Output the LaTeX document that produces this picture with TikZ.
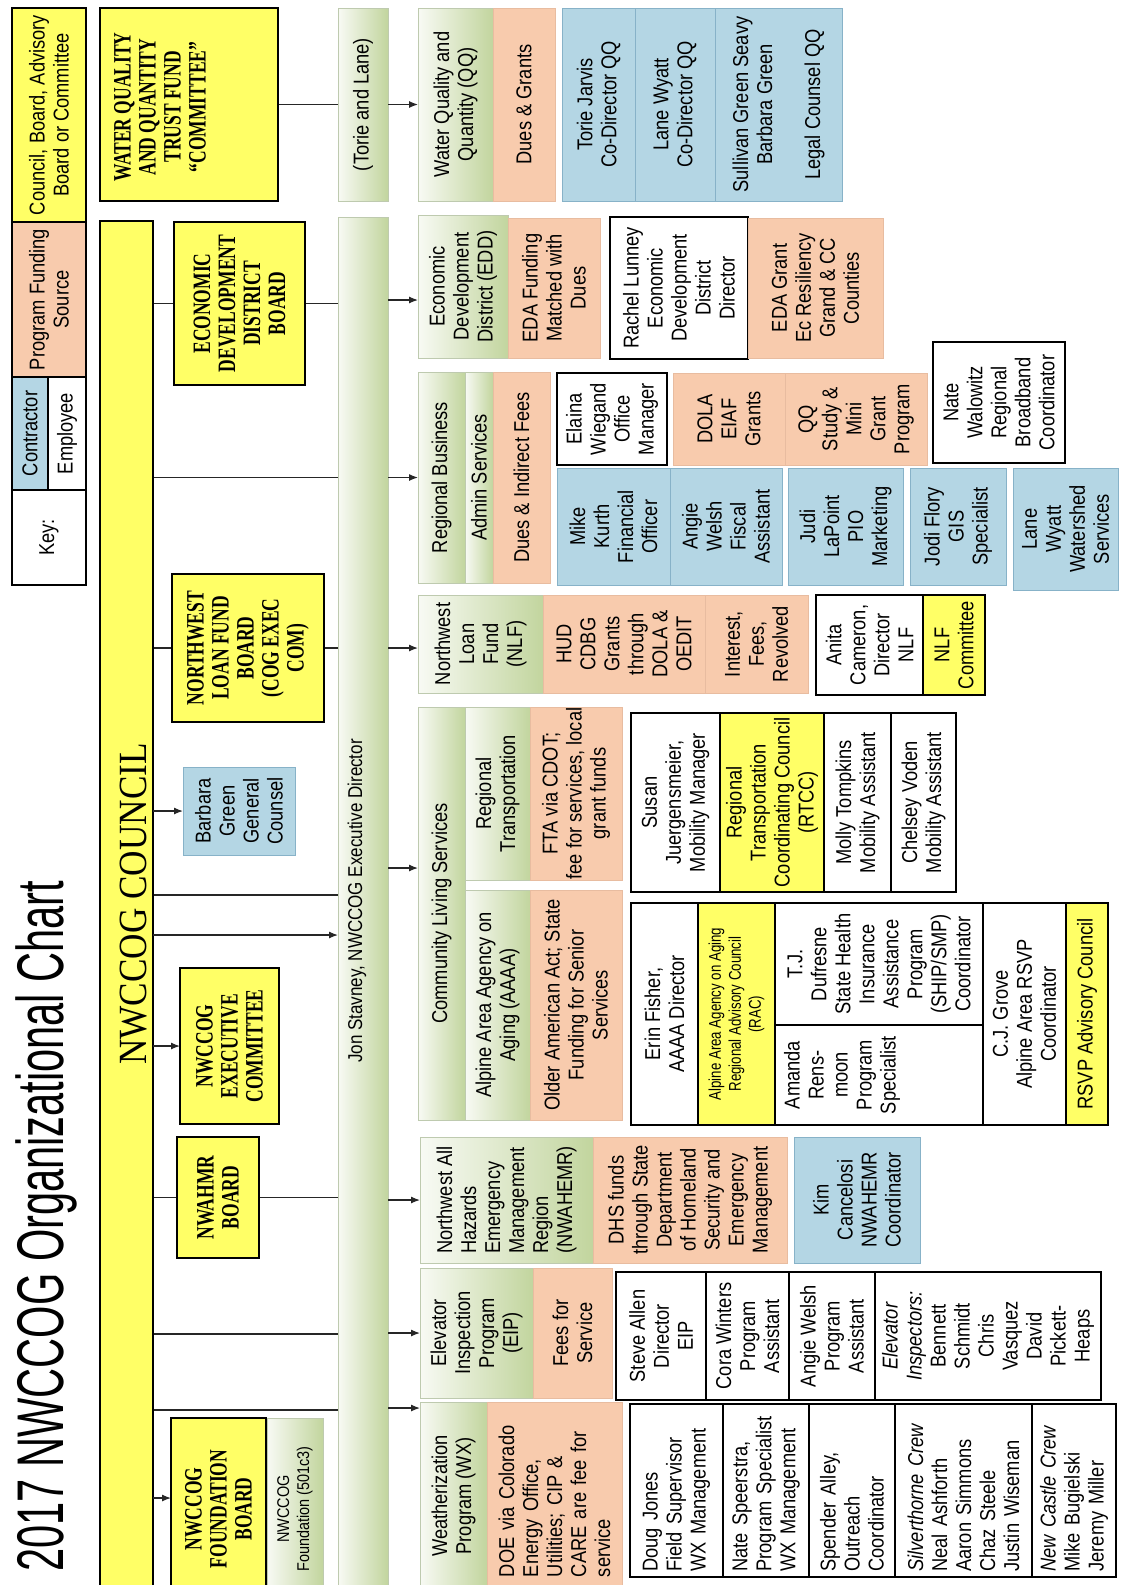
\documentclass[tikz,border=0pt]{standalone}
\usepackage{fontspec}
\setmainfont{Liberation Sans}
\newfontfamily\bodyF{Liberation Sans}[FakeStretch=0.85]
\newfontfamily\narrowF{Liberation Sans}[FakeStretch=0.78]
\newfontfamily\serifB{Liberation Serif}[FakeStretch=0.70]
\newfontfamily\serifR{Liberation Serif}[FakeStretch=0.88]
\newfontfamily\titleF{Liberation Sans}[FakeStretch=0.63]
\usetikzlibrary{arrows.meta}
\pgfdeclarelayer{background}
\pgfsetlayers{background,main}
\definecolor{yel1}{RGB}{255,255,102}
\definecolor{peach}{RGB}{248,203,173}
\definecolor{peachD}{RGB}{232,188,160}
\definecolor{blue1}{RGB}{180,214,228}
\definecolor{blueD}{RGB}{135,178,200}
\definecolor{greenL}{RGB}{248,250,244}
\definecolor{greenD}{RGB}{194,213,158}
\definecolor{greenB}{RGB}{190,202,175}
\newcommand\fBody{\bodyF\fontsize{21.5}{24}\selectfont}
\newcommand\fSmall{\bodyF\fontsize{17}{20}\selectfont}
\newcommand\fRac{\narrowF\fontsize{17}{20}\selectfont}
\newcommand\fBoard{\serifB\bfseries\fontsize{25}{25}\selectfont}
\newcommand\fCouncil{\serifR\fontsize{40}{44}\selectfont}
\newcommand\fTitle{\titleF\fontsize{66}{70}\selectfont}
\newcommand\fJon{\bodyF\fontsize{20}{24}\selectfont}
\newcommand\obox[7]{%
  \pgfmathsetmacro\bxw{#6-#5}%
  \pgfmathsetmacro\bxh{#4-#3}%
  \pgfmathsetmacro\bxcx{(#3+#4)/2}%
  \pgfmathsetmacro\bxcy{(#5+#6)/2}%
  \node[#2, rotate=90, minimum width=\bxw pt, minimum height=\bxh pt] (#1) at (\bxcx,\bxcy) {#7};%
}
\tikzset{
  bxbase/.style={inner sep=0pt, outer sep=0pt, align=center, font=\fBody},
  grnbox/.style={bxbase, draw=greenB, line width=0.7pt, left color=greenL, right color=greenD},
  pchbox/.style={bxbase, fill=peach, draw=peachD, line width=0.7pt},
  blubox/.style={bxbase, fill=blue1, draw=blueD, line width=1pt},
  yelbox/.style={bxbase, fill=yel1, draw=black, line width=1.2pt},
  whtbox/.style={bxbase, fill=white, draw=black, line width=1.2pt},
  boardbox/.style={yelbox, font=\fBoard},
  cellbox/.style={bxbase, fill=white, draw=black, line width=1.1pt},
  cellL/.style={cellbox, align=left, text width=162pt},
  txtnode/.style={inner sep=0pt, align=center, font=\fBody, rotate=90},
  conn/.style={line width=1.2pt, draw=black!85},
  arr/.style={conn, -{Latex[length=9pt,width=7pt]}}
}
\begin{document}
\begin{tikzpicture}[x=1pt,y=-1pt]
\useasboundingbox (0,0) rectangle (1125,1585);
\begin{pgfonlayer}{background}
\fill[white] (0,0) rectangle (1125,1585);
\end{pgfonlayer}
% named y-levels for connectors
\coordinate (c300) at (0,300);
\coordinate (c868) at (0,868);
\coordinate (c895) at (0,895);
\coordinate (c935) at (0,935);
\coordinate (c1334) at (0,1334);
\coordinate (c1408) at (0,1408);
\coordinate (c1410) at (0,1410);
\coordinate (c1498) at (0,1498);
% ---------- title ----------
\node[rotate=90, anchor=base, inner sep=0pt, font=\fTitle] (title) at (63,1226) {2017 NWCCOG Organizational Chart};
% ---------- key ----------
\obox{kcb}{yelbox}{12}{86}{8}{222}{Council, Board, Advisory\\Board or Committee}
\obox{kpf}{pchbox, draw=black, line width=1.2pt}{12}{86}{222}{377}{Program Funding\\Source}
\obox{kcon}{blubox, draw=black, line width=1.2pt}{12}{48}{377}{490}{Contractor}
\obox{kemp}{whtbox}{48}{86}{377}{490}{Employee}
\obox{kkey}{whtbox}{12}{86}{490}{585}{Key:}
% ---------- council and boards ----------
\obox{wqc}{yelbox}{100}{278}{8}{201}{}
\node[txtnode, font=\fBoard] (wqct) at (160,107) {WATER QUALITY\\AND QUANTITY\\TRUST FUND\\“COMMITTEE”};
\obox{council}{yelbox}{100}{153}{221}{1600}{}
\node[rotate=90, anchor=base, inner sep=0pt, font=\fCouncil] (councilt) at (146,904) {NWCCOG COUNCIL};
\obox{eddb}{boardbox}{174}{305}{222}{385}{ECONOMIC\\DEVELOPMENT\\DISTRICT\\BOARD}
\obox{nlfb}{boardbox}{172}{324}{574}{722}{NORTHWEST\\LOAN FUND\\BOARD\\(COG EXEC\\COM)}
\obox{bg}{blubox}{183}{295}{767}{855}{Barbara\\Green\\General\\Counsel}
\obox{execc}{boardbox}{180}{279}{968}{1124}{NWCCOG\\EXECUTIVE\\COMMITTEE}
\obox{nwb}{boardbox}{177}{259}{1137}{1258}{NWAHMR\\BOARD}
\obox{fb}{boardbox}{171}{266}{1418}{1600}{NWCCOG\\FOUNDATION\\BOARD}
\obox{fnd}{grnbox, font=\fSmall}{267}{323}{1418}{1600}{NWCCOG\\Foundation (501c3)}
% ---------- executive director bar ----------
\obox{tl}{grnbox}{338}{388}{8}{201}{(Torie and Lane)}
\obox{jon}{grnbox}{338}{388}{217}{1600}{}
\node[txtnode, font=\fJon] (jont) at (357,901) {Jon Stavney, NWCCOG Executive Director};
% ---------- water quality ----------
\obox{wqp}{grnbox}{418}{493}{8}{201}{Water Quality and\\Quantity (QQ)}
\obox{wqf}{pchbox}{493}{555}{8}{201}{Dues \& Grants}
\obox{wqtj}{blubox}{562}{635}{8}{201}{Torie Jarvis\\Co-Director QQ}
\obox{wqlw}{blubox}{635}{715}{8}{201}{Lane Wyatt\\Co-Director QQ}
\obox{wqsg}{blubox}{715}{842}{8}{201}{Sullivan Green Seavy\\Barbara Green\\[24pt]Legal Counsel QQ}
% ---------- economic development district ----------
\obox{eddp}{grnbox}{418}{508}{215}{358}{Economic\\Development\\District (EDD)}
\obox{eddf}{pchbox}{508}{600}{218}{358}{EDA Funding\\Matched with\\Dues}
\obox{eddr}{whtbox}{610}{748}{217}{359}{Rachel Lunney\\Economic\\Development\\District\\Director}
\obox{eddg}{pchbox}{748}{883}{218}{358}{EDA Grant\\Ec Resiliency\\Grand \& CC\\Counties}
% ---------- regional business ----------
\obox{rbp}{grnbox}{418}{465}{372}{583}{Regional Business}
\obox{rba}{grnbox}{465}{493}{372}{583}{Admin Services}
\obox{rbf}{pchbox}{493}{550}{372}{583}{Dues \& Indirect Fees}
\obox{rbel}{whtbox}{557}{667}{373}{465}{Elaina\\Wiegand\\Office\\Manager}
\obox{rbdo}{pchbox}{673}{785}{373}{465}{DOLA\\EIAF\\Grants}
\obox{rbqq}{pchbox}{785}{927}{373}{465}{QQ\\Study \&\\Mini\\Grant\\Program}
\obox{rbnw}{whtbox}{933}{1065}{342}{463}{Nate\\Walowitz\\Regional\\Broadband\\Coordinator}
\obox{rbmk}{blubox}{557}{670}{468}{585}{Mike\\Kurth\\Financial\\Officer}
\obox{rbaw}{blubox}{670}{782}{468}{585}{Angie\\Welsh\\Fiscal\\Assistant}
\obox{rbjl}{blubox}{788}{903}{468}{585}{Judi\\LaPoint\\PIO\\Marketing}
\obox{rbjf}{blubox}{910}{1006}{468}{585}{Jodi Flory\\GIS\\Specialist}
\obox{rblw}{blubox}{1013}{1118}{468}{590}{Lane\\Wyatt\\Watershed\\Services}
% ---------- northwest loan fund ----------
\obox{nlfp}{grnbox}{418}{543}{595}{693}{Northwest\\Loan\\Fund\\(NLF)}
\obox{nlfh}{pchbox}{543}{705}{595}{693}{HUD\\CDBG\\Grants\\through\\DOLA \&\\OEDIT}
\obox{nlfi}{pchbox}{705}{808}{595}{693}{Interest,\\Fees,\\Revolved}
\obox{nlfa}{whtbox}{816}{923}{595}{695}{Anita\\Cameron,\\Director\\NLF}
\obox{nlfc}{yelbox}{923}{985}{595}{695}{NLF\\Committee}
% ---------- community living services ----------
\obox{clsp}{grnbox}{418}{465}{707}{1120}{Community Living Services}
\obox{clsrt}{grnbox}{465}{530}{707}{880}{Regional\\Transportation}
\obox{clsft}{pchbox}{530}{622}{707}{880}{FTA via CDOT;\\fee for services, local\\grant funds}
\obox{clsaa}{grnbox}{465}{530}{890}{1120}{Alpine Area Agency on\\Aging (AAAA)}
\obox{clsoa}{pchbox}{530}{622}{890}{1120}{Older American Act; State\\Funding for Senior\\Services}
\obox{tsu}{cellbox}{631}{720}{713}{892}{Susan\\Juergensmeier,\\Mobility Manager}
\obox{trt}{cellbox, fill=yel1}{720}{824}{713}{892}{Regional\\Transportation\\Coordinating Council\\(RTCC)}
\obox{tmo}{cellbox}{824}{891}{713}{892}{Molly Tompkins\\Mobility Assistant}
\obox{tch}{cellbox}{891}{956}{713}{892}{Chelsey Voden\\Mobility Assistant}
\obox{aef}{cellbox}{631}{698}{903}{1125}{Erin Fisher,\\AAAA Director}
\obox{arac}{cellbox, fill=yel1, font=\fRac}{698}{775}{903}{1125}{Alpine Area Agency on Aging\\Regional Advisory Council\\(RAC)}
\obox{atj}{cellbox}{775}{983}{903}{1025}{T.J.\\Dufresne\\State Health\\Insurance\\Assistance\\Program\\(SHIP/SMP)\\Coordinator}
\obox{aam}{cellbox}{775}{983}{1025}{1125}{}
\node[txtnode] (aamt) at (842,1075) {Amanda\\Rens-\\moon\\Program\\Specialist};
\obox{acj}{cellbox}{983}{1066}{903}{1125}{C.J. Grove\\Alpine Area RSVP\\Coordinator}
\obox{arsvp}{cellbox, fill=yel1}{1066}{1108}{903}{1125}{RSVP Advisory Council}
% ---------- NWAHEMR ----------
\obox{nwp}{grnbox, align=left}{420}{593}{1137}{1263}{Northwest All\\Hazards\\Emergency\\Management\\Region\\(NWAHEMR)}
\obox{nwf}{pchbox}{593}{787}{1137}{1263}{DHS funds\\through State\\Department\\of Homeland\\Security and\\Emergency\\Management}
\obox{nwk}{blubox}{794}{920}{1137}{1263}{Kim\\Cancelosi\\NWAHEMR\\Coordinator}
% ---------- elevator inspection ----------
\obox{eipp}{grnbox}{420}{533}{1268}{1398}{Elevator\\Inspection\\Program\\(EIP)}
\obox{eipf}{pchbox}{533}{612}{1268}{1398}{Fees for\\Service}
\obox{eis}{cellbox}{616}{706}{1272}{1400}{Steve Allen\\Director\\EIP}
\obox{eic}{cellbox}{706}{789}{1272}{1400}{Cora Winters\\Program\\Assistant}
\obox{eia}{cellbox}{789}{875}{1272}{1400}{Angie Welsh\\Program\\Assistant}
\obox{eii}{cellbox}{875}{1101}{1272}{1400}{\textit{Elevator}\\\textit{Inspectors:}\\Bennett\\Schmidt\\Chris\\Vasquez\\David\\Pickett-\\Heaps}
% ---------- weatherization ----------
\obox{wxp}{grnbox}{420}{487}{1402}{1590}{Weatherization\\Program (WX)}
\obox{wxf}{pchbox, align=left, text width=162pt}{487}{622}{1402}{1590}{DOE via Colorado\\Energy Office,\\Utilities; CIP \&\\CARE are fee for\\service}
\obox{wx1}{cellL}{630}{723}{1404}{1577}{Doug Jones\\Field Supervisor\\WX Management}
\obox{wx2}{cellL}{723}{809}{1404}{1577}{Nate Speerstra,\\Program Specialist\\WX Management}
\obox{wx3}{cellL}{809}{895}{1404}{1577}{Spender Alley,\\Outreach\\Coordinator}
\obox{wx4}{cellL}{895}{1032}{1404}{1577}{\textit{Silverthorne Crew}\\Neal Ashforth\\Aaron Simmons\\Chaz Steele\\Justin Wiseman}
\obox{wx5}{cellL}{1032}{1116}{1404}{1577}{\textit{New Castle Crew}\\Mike Bugielski\\Jeremy Miller}
% ---------- connectors behind boards ----------
\begin{pgfonlayer}{background}
\draw[conn] (wqc.south) -- (tl.north);
\draw[conn] (council.south |- eddb) -- (jon.north |- eddb);
\draw[conn] (council.south |- rbp) -- (jon.north |- rbp);
\draw[conn] (council.south |- nlfb) -- (jon.north |- nlfb);
\draw[conn] (council.south |- c895) -- (jon.north |- c895);
\draw[conn] (council.south |- nwb) -- (jon.north |- nwb);
\draw[conn] (council.south |- c1334) -- (jon.north |- c1334);
\draw[conn] (council.south |- c1410) -- (jon.north |- c1410);
\end{pgfonlayer}
% ---------- arrows ----------
\draw[arr] (tl.south) -- (wqp.north);
\draw[arr] (jon.south |- c300) -- (eddp.north |- c300);
\draw[arr] (jon.south |- rbp) -- (rbp.north);
\draw[arr] (jon.south |- nlfb) -- (nlfp.north |- nlfb);
\draw[arr] (council.south |- bg) -- (bg.north);
\draw[arr] (jon.south |- c868) -- (clsp.north |- c868);
\draw[arr] (council.south |- c935) -- (jon.north |- c935);
\draw[arr] (council.south |- execc) -- (execc.north);
\draw[arr] (jon.south |- nwp) -- (nwp.north);
\draw[arr] (jon.south |- eipp) -- (eipp.north);
\draw[arr] (jon.south |- c1408) -- (wxp.north |- c1408);
\draw[arr] (council.south |- c1498) -- (fb.north |- c1498);
\end{tikzpicture}
\end{document}
